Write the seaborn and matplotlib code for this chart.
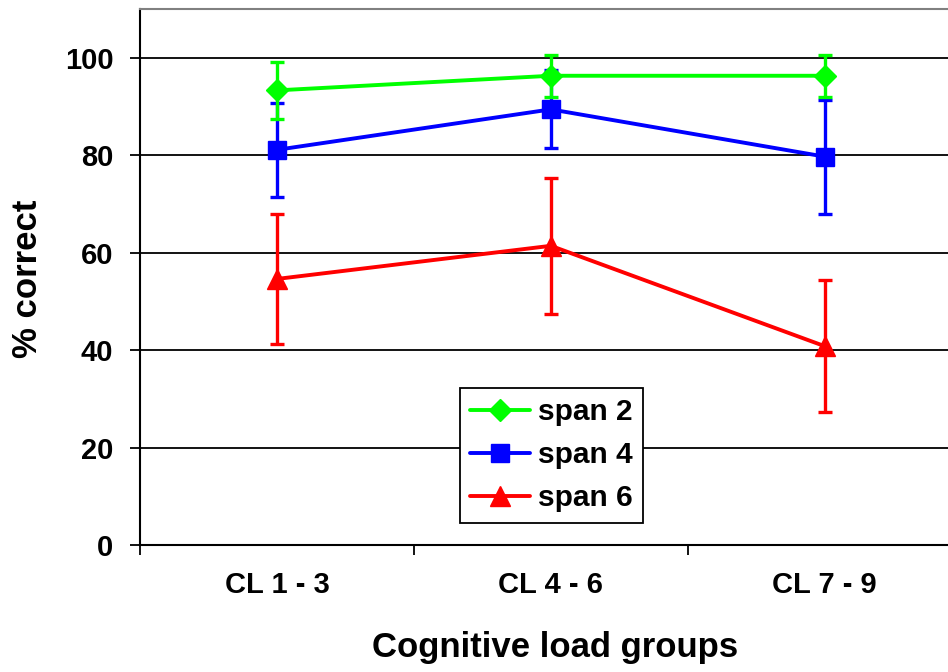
import matplotlib
matplotlib.use("Agg")
import matplotlib.pyplot as plt
import seaborn as sns
import numpy as np

# Groups and mean % correct (with error half-widths) per span length
groups = ["CL 1 - 3", "CL 4 - 6", "CL 7 - 9"]
series_names = ["span 2", "span 4", "span 6"]
span2 = [93.3, 96.3, 96.3]
span2_err = [5.8, 4.3, 4.3]
span4 = [81.1, 89.4, 79.7]
span4_err = [9.7, 8.0, 11.7]
span6 = [54.6, 61.4, 40.8]
span6_err = [13.4, 14.0, 13.6]

colors = ["#00FF00", "#0000FF", "#FF0000"]
markers = ["D", "s", "^"]
msizes = [11.5, 13, 14]

sns.set_style("white")
plt.rcParams["font.family"] = ["Liberation Sans", "DejaVu Sans"]
plt.rcParams["font.weight"] = "bold"
for key in ["text.color", "axes.labelcolor", "xtick.color", "ytick.color"]:
    plt.rcParams[key] = "black"

fig = plt.figure(figsize=(9.48, 6.72), dpi=100)
ax = fig.add_axes([140 / 948, 127 / 672, 808 / 948, 536 / 672])

x = np.arange(len(groups))
values = [span2, span4, span6]
errors = [span2_err, span4_err, span6_err]

# draw span 6 first so span 2 sits on top
for i in [2, 1, 0]:
    z = 10 - i * 2
    ax.errorbar(x, values[i], yerr=errors[i], fmt="none", ecolor=colors[i],
                elinewidth=2.4, capsize=4.8, capthick=2.4, zorder=z)
    sns.lineplot(x=x, y=values[i], ax=ax, color=colors[i], linewidth=2.8,
                 marker=markers[i], markersize=msizes[i],
                 markeredgecolor=colors[i], markerfacecolor=colors[i],
                 markeredgewidth=1, label=series_names[i], zorder=z + 1,
                 legend=False)

ax.set_xlim(-0.5, 2.45)
ax.set_ylim(0, 110)

# y axis
ax.set_yticks([0, 20, 40, 60, 80, 100])
ax.yaxis.grid(True, color="black", linewidth=1.3)
ax.set_axisbelow(True)
ax.tick_params(axis="y", which="major", direction="out", length=7.2, width=1.3,
               color="black", pad=12, labelsize=21, left=True)

# x axis: boundary ticks as majors, labels on minors
ax.set_xticks([-0.5, 0.5, 1.5])
ax.set_xticklabels([])
ax.set_xticks(x, minor=True)
ax.set_xticklabels(groups, minor=True)
ax.tick_params(axis="x", which="major", direction="out", length=7.2, width=1.3,
               color="black", bottom=True)
ax.tick_params(axis="x", which="minor", length=0, pad=19, labelsize=21)
for lab in ax.get_xticklabels(minor=True) + ax.get_yticklabels():
    lab.set_fontweight("bold")

for side in ["left", "bottom"]:
    ax.spines[side].set_color("black")
    ax.spines[side].set_linewidth(1.5)
ax.spines["top"].set_color("#808080")
ax.spines["top"].set_linewidth(1.5)
ax.spines["right"].set_visible(False)

ax.set_xlabel("Cognitive load groups", fontsize=25, fontweight="bold", va="center")
ax.xaxis.set_label_coords(0.514, -0.192)
ax.set_ylabel("% correct", fontsize=25, fontweight="bold", va="center")
ax.yaxis.set_label_coords(-0.139, 0.496)

handles, labels = ax.get_legend_handles_labels()
order = [labels.index(n) for n in series_names]
leg = ax.legend([handles[k] for k in order], [labels[k] for k in order],
                loc="upper left", bbox_to_anchor=(0.396, 0.293),
                borderaxespad=0, frameon=True, fancybox=False, framealpha=1,
                edgecolor="black", prop={"size": 21.5, "weight": "bold"},
                handlelength=2.0, handletextpad=0.25, labelspacing=0.5,
                borderpad=0.35)
leg.get_frame().set_linewidth(1.3)
leg.set_zorder(20)

fig.savefig("out.png", dpi=100)
